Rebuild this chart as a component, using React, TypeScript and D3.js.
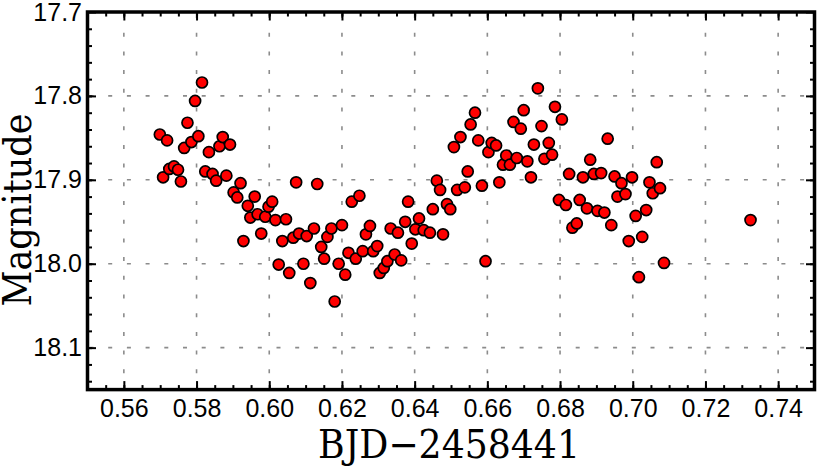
import { useEffect, useRef } from "react";
import * as d3 from "d3";

// light curve: BJD - 2458441 vs magnitude
const bjd = [
  0.5699, 0.5719, 0.5708, 0.5725, 0.5738, 0.5749, 0.5757, 0.5766, 0.5775, 0.5786,
  0.5796, 0.5805, 0.5815, 0.5824, 0.5834, 0.5844, 0.5854, 0.5863, 0.5872, 0.5882,
  0.5892, 0.5902, 0.5912, 0.5921, 0.5929, 0.5941, 0.5948, 0.5960, 0.5968, 0.5978,
  0.5989, 0.5998, 0.6008, 0.6017, 0.6026, 0.6036, 0.6046, 0.6055, 0.6066, 0.6074,
  0.6082, 0.6094, 0.6103, 0.6113, 0.6123, 0.6132, 0.6143, 0.6151, 0.6160, 0.6171,
  0.6180, 0.6191, 0.6200, 0.6209, 0.6218, 0.6227, 0.6238, 0.6248, 0.6257, 0.6266,
  0.6277, 0.6286, 0.6297, 0.6304, 0.6315, 0.6325, 0.6334, 0.6345, 0.6354, 0.6363,
  0.6374, 0.6382, 0.6392, 0.6402, 0.6412, 0.6425, 0.6442, 0.6450, 0.6461, 0.6470,
  0.6478, 0.6489, 0.6498, 0.6508, 0.6517, 0.6526, 0.6538, 0.6546, 0.6554, 0.6566,
  0.6575, 0.6585, 0.6595, 0.6603, 0.6612, 0.6624, 0.6633, 0.6643, 0.6652, 0.6662,
  0.6672, 0.6681, 0.6692, 0.6700, 0.6710, 0.6720, 0.6728, 0.6739, 0.6749, 0.6757,
  0.6769, 0.6778, 0.6786, 0.6797, 0.6805, 0.6816, 0.6825, 0.6834, 0.6846, 0.6854,
  0.6863, 0.6874, 0.6883, 0.6893, 0.6903, 0.6913, 0.6922, 0.6931, 0.6941, 0.6950,
  0.6958, 0.6969, 0.6980, 0.6989, 0.6998, 0.7008, 0.7017, 0.7026, 0.7037, 0.7046,
  0.7055, 0.7066, 0.7075, 0.7086, 0.7324,
];

const mag = [
  17.846, 17.853, 17.897, 17.887, 17.884, 17.888, 17.902, 17.862, 17.832, 17.855,
  17.806, 17.848, 17.784, 17.890, 17.867, 17.893, 17.901, 17.860, 17.849, 17.895,
  17.858, 17.915, 17.921, 17.904, 17.973, 17.931, 17.945, 17.920, 17.941, 17.964,
  17.944, 17.932, 17.926, 17.948, 18.001, 17.973, 17.947, 18.011, 17.969, 17.903,
  17.964, 18.000, 17.967, 18.023, 17.958, 17.905, 17.980, 17.994, 17.968, 17.958,
  18.045, 18.000, 17.954, 18.013, 17.987, 17.926, 17.994, 17.919, 17.985, 17.965,
  17.955, 17.985, 17.979, 18.011, 18.005, 17.997, 17.958, 17.989, 17.963, 17.996,
  17.950, 17.926, 17.976, 17.959, 17.946, 17.960, 17.963, 17.935, 17.901, 17.912,
  17.965, 17.929, 17.935, 17.861, 17.912, 17.849, 17.909, 17.890, 17.834, 17.820,
  17.853, 17.907, 17.997, 17.867, 17.856, 17.859, 17.903, 17.882, 17.871, 17.882,
  17.831, 17.874, 17.839, 17.817, 17.878, 17.897, 17.858, 17.791, 17.836, 17.875,
  17.856, 17.870, 17.813, 17.924, 17.828, 17.930, 17.893, 17.957, 17.952, 17.924,
  17.897, 17.934, 17.876, 17.893, 17.937, 17.892, 17.939, 17.851, 17.954, 17.896,
  17.920, 17.904, 17.917, 17.973, 17.897, 17.943, 18.016, 17.968, 17.936, 17.903,
  17.916, 17.879, 17.910, 17.999, 17.948,
];

const xTicks = [0.56, 0.58, 0.6, 0.62, 0.64, 0.66, 0.68, 0.7, 0.72, 0.74];
const yTicks = [17.7, 17.8, 17.9, 18.0, 18.1];
const xMinor = d3.range(1, 40).map((i) => 0.55 + i * 0.005);
const yMinor = d3.range(1, 23).map((i) => 17.7 + i * 0.02);

const App = () => {
  const ref = useRef<SVGSVGElement>(null);

  useEffect(() => {
    const width = 817;
    const height = 466;
    const margin = { top: 12, right: 2.5, bottom: 76.4, left: 87.5 };
    const x0 = margin.left;
    const x1 = width - margin.right;
    const y0 = margin.top;
    const y1 = height - margin.bottom;

    const svg = d3.select(ref.current);
    svg.selectAll("*").remove();

    const x = d3.scaleLinear().domain([0.55, 0.75]).range([x0, x1]);
    const y = d3.scaleLinear().domain([17.7, 18.15]).range([y0, y1]);

    svg.append("rect").attr("width", width).attr("height", height).attr("fill", "#fff");

    // dashed grid
    const grid = svg.append("g").attr("stroke", "#8c8c8c").attr("stroke-width", 1.6)
      .attr("stroke-dasharray", "4 14.7");
    grid.selectAll(".gx").data(xTicks).join("line")
      .attr("x1", (d) => x(d)).attr("x2", (d) => x(d))
      .attr("y1", y0 + 2).attr("y2", y1);
    grid.selectAll(".gy").data(yTicks.slice(1)).join("line")
      .attr("x1", x0 + 2).attr("x2", x1)
      .attr("y1", (d) => y(d)).attr("y2", (d) => y(d));

    // points
    svg.append("g").selectAll("circle").data(bjd).join("circle")
      .attr("cx", (d) => x(d))
      .attr("cy", (d, i) => y(mag[i]))
      .attr("r", 5.5)
      .attr("fill", "#ff0000")
      .attr("stroke", "#000")
      .attr("stroke-width", 1.7);

    const styleAxis = (g: any) => {
      g.select(".domain").remove();
      g.selectAll("line").attr("stroke", "#000").attr("stroke-width", 2);
      g.selectAll("text").attr("fill", "#000")
        .style("font-family", "'Liberation Sans', Arial, sans-serif").style("font-size", "25px");
    };

    // minor ticks, all four sides
    svg.append("g").attr("transform", `translate(0,${y1})`)
      .call(d3.axisBottom(x).tickValues(xMinor).tickSize(-4.5).tickFormat(() => "")).call(styleAxis);
    svg.append("g").attr("transform", `translate(0,${y0})`)
      .call(d3.axisTop(x).tickValues(xMinor).tickSize(-4.5).tickFormat(() => "")).call(styleAxis);
    svg.append("g").attr("transform", `translate(${x0},0)`)
      .call(d3.axisLeft(y).tickValues(yMinor).tickSize(-4.5).tickFormat(() => "")).call(styleAxis);
    svg.append("g").attr("transform", `translate(${x1},0)`)
      .call(d3.axisRight(y).tickValues(yMinor).tickSize(-4.5).tickFormat(() => "")).call(styleAxis);

    // major ticks with labels
    svg.append("g").attr("transform", `translate(0,${y1})`)
      .call(d3.axisBottom(x).tickValues(xTicks).tickSize(-8.5).tickPadding(10).tickFormat(d3.format(".2f")))
      .call(styleAxis);
    svg.append("g").attr("transform", `translate(0,${y0})`)
      .call(d3.axisTop(x).tickValues(xTicks).tickSize(-8.5).tickFormat(() => "")).call(styleAxis);
    svg.append("g").attr("transform", `translate(${x0},0)`)
      .call(d3.axisLeft(y).tickValues(yTicks).tickSize(-8.5).tickPadding(5.5).tickFormat(d3.format(".1f")))
      .call(styleAxis);
    svg.append("g").attr("transform", `translate(${x1},0)`)
      .call(d3.axisRight(y).tickValues(yTicks).tickSize(-8.5).tickFormat(() => "")).call(styleAxis);

    // frame
    svg.append("rect")
      .attr("x", x0).attr("y", y0).attr("width", x1 - x0).attr("height", y1 - y0)
      .attr("fill", "none").attr("stroke", "#000").attr("stroke-width", 3.5);

    const serif = "'DejaVu Serif Condensed', 'DejaVu Serif', serif";
    svg.append("text")
      .attr("x", 449).attr("y", 458)
      .attr("text-anchor", "middle")
      .attr("textLength", 262).attr("lengthAdjust", "spacingAndGlyphs")
      .style("font-family", serif).style("font-size", "39px").attr("fill", "#000")
      .text("BJD\u22122458441");
    svg.append("text")
      .attr("transform", "translate(31,210) rotate(-90)")
      .attr("text-anchor", "middle")
      .attr("textLength", 193).attr("lengthAdjust", "spacingAndGlyphs")
      .style("font-family", serif).style("font-size", "39px").attr("fill", "#000")
      .text("Magnitude");
  }, []);

  return (
    <svg ref={ref} width={817} height={466}
      style={{ position: "absolute", left: 0, top: 0, display: "block" }} />
  );
};

export default App;
